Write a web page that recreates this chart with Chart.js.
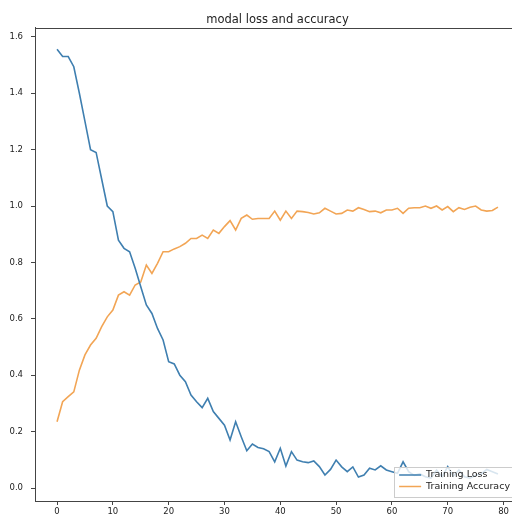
<!DOCTYPE html>
<html>
<head>
<meta charset="utf-8">
<script src="https://cdn.jsdelivr.net/npm/chart.js@4/dist/chart.umd.min.js"></script>
<style>
    html, body { margin: 0; padding: 0; background: #fff; overflow: hidden; }
    #wrap { width: 555px; height: 530px; }
</style>
</head>
<body>
<div id="wrap"><canvas id="historyChart" width="555" height="530"></canvas></div>
<script>
// epochs on the x axis
const epochs = [0, 1, 2, 3, 4, 5, 6, 7, 8, 9, 10, 11, 12, 13, 14, 15, 16, 17, 18, 19,
    20, 21, 22, 23, 24, 25, 26, 27, 28, 29, 30, 31, 32, 33, 34, 35, 36, 37, 38, 39,
    40, 41, 42, 43, 44, 45, 46, 47, 48, 49, 50, 51, 52, 53, 54, 55, 56, 57, 58, 59,
    60, 61, 62, 63, 64, 65, 66, 67, 68, 69, 70, 71, 72, 73, 74, 75, 76, 77, 78, 79];

const trainingLoss = [1.556, 1.53, 1.53, 1.494, 1.40, 1.30, 1.20, 1.19, 1.095, 1.00,
    0.98, 0.879, 0.85, 0.838, 0.779, 0.714, 0.649, 0.619, 0.566, 0.525,
    0.448, 0.44, 0.40, 0.377, 0.33, 0.306, 0.285, 0.318, 0.271, 0.247,
    0.223, 0.170, 0.235, 0.182, 0.132, 0.156, 0.144, 0.139, 0.129, 0.093,
    0.141, 0.078, 0.129, 0.099, 0.093, 0.090, 0.096, 0.076, 0.046, 0.066,
    0.099, 0.075, 0.058, 0.075, 0.039, 0.046, 0.070, 0.064, 0.079, 0.064,
    0.058, 0.052, 0.093, 0.058, 0.045, 0.050, 0.040, 0.035, 0.064, 0.040,
    0.076, 0.042, 0.064, 0.040, 0.035, 0.045, 0.050, 0.066, 0.058, 0.050];

const trainingAccuracy = [0.235, 0.306, 0.324, 0.341, 0.418, 0.472, 0.507, 0.531, 0.572, 0.607,
    0.631, 0.684, 0.696, 0.684, 0.72, 0.731, 0.791, 0.761, 0.797, 0.838,
    0.838, 0.848, 0.856, 0.868, 0.885, 0.885, 0.897, 0.885, 0.915, 0.903,
    0.927, 0.948, 0.915, 0.956, 0.968, 0.953, 0.956, 0.956, 0.956, 0.982,
    0.950, 0.982, 0.956, 0.982, 0.980, 0.977, 0.972, 0.976, 0.992, 0.982,
    0.972, 0.974, 0.986, 0.982, 0.994, 0.988, 0.980, 0.982, 0.976, 0.986,
    0.986, 0.992, 0.974, 0.992, 0.994, 0.994, 1.000, 0.992, 1.000, 0.986,
    0.998, 0.980, 0.994, 0.988, 0.996, 1.000, 0.986, 0.982, 0.984, 0.996];

const xTicks = [0, 10, 20, 30, 40, 50, 60, 70, 80];
const yTicks = [0.0, 0.2, 0.4, 0.6, 0.8, 1.0, 1.2, 1.4, 1.6];

const FONT = "'DejaVu Sans', sans-serif";
const AXIS_COLOR = '#444';

// matplotlib centres the title over the axes, not the whole figure
const titleOverAxesPlugin = {
    id: 'titleOverAxes',
    afterLayout(chart) {
        if (chart.titleBlock) {
            chart.titleBlock.left = chart.chartArea.left;
            chart.titleBlock.right = chart.chartArea.right;
        }
    }
};

// matplotlib style frame: all four spines
const framePlugin = {
    id: 'frame',
    afterDraw(chart) {
        const a = chart.chartArea;
        const ctx = chart.ctx;
        ctx.save();
        ctx.strokeStyle = AXIS_COLOR;
        ctx.lineWidth = 1;
        ctx.strokeRect(Math.round(a.left) + 0.5, Math.round(a.top) + 0.5,
            Math.round(a.right - a.left), Math.round(a.bottom - a.top));
        ctx.restore();
    }
};

// legend box in the lower right corner, inside the axes
const boxLegendPlugin = {
    id: 'boxLegend',
    afterDraw(chart) {
        const a = chart.chartArea;
        const ctx = chart.ctx;
        const sets = chart.data.datasets;
        ctx.save();
        ctx.font = '9.5px ' + FONT;
        let textW = 0;
        sets.forEach(ds => { textW = Math.max(textW, ctx.measureText(ds.label).width); });
        const rowH = 11.5;
        const w = 5 + 22 + 5 + textW + 5;
        const h = 6 + rowH * sets.length + 1;
        const right = a.right - 5;
        const bottom = a.bottom - 4;
        const left = right - w;
        const top = bottom - h;
        ctx.fillStyle = 'rgba(255,255,255,0.8)';
        ctx.fillRect(left, top, w, h);
        ctx.strokeStyle = '#ccc';
        ctx.lineWidth = 1;
        ctx.strokeRect(Math.round(left) + 0.5, Math.round(top) + 0.5, Math.round(w), Math.round(h));
        sets.forEach((ds, i) => {
            const y = top + 8 + i * rowH;
            ctx.strokeStyle = ds.borderColor;
            ctx.lineWidth = 1.5;
            ctx.beginPath();
            ctx.moveTo(left + 5, y);
            ctx.lineTo(left + 27, y);
            ctx.stroke();
            ctx.fillStyle = '#222';
            ctx.textBaseline = 'middle';
            ctx.textAlign = 'left';
            ctx.fillText(ds.label, left + 32, y);
        });
        ctx.restore();
    }
};

document.addEventListener('DOMContentLoaded', function() {
    const ctx = document.getElementById('historyChart');

    new Chart(ctx, {
        type: 'line',
        data: {
            labels: epochs,
            datasets: [
                {
                    label: 'Training Loss',
                    data: trainingLoss,
                    borderColor: '#3f7fb0',
                    borderWidth: 1.6,
                    pointRadius: 0,
                    tension: 0,
                    fill: false
                },
                {
                    label: 'Training Accuracy',
                    data: trainingAccuracy,
                    borderColor: '#f2a555',
                    borderWidth: 1.6,
                    pointRadius: 0,
                    tension: 0,
                    fill: false
                }
            ]
        },
        options: {
            responsive: false,
            animation: false,
            devicePixelRatio: 1,
            layout: { padding: { left: 0, right: 35, top: 0, bottom: 0 } },
            plugins: {
                legend: { display: false },
                tooltip: { enabled: false },
                title: {
                    display: true,
                    text: 'modal loss and accuracy',
                    color: '#222',
                    font: { size: 11.5, family: FONT, weight: 'normal', lineHeight: 1.2 },
                    padding: { top: 13, bottom: 1 }
                }
            },
            scales: {
                x: {
                    type: 'linear',
                    min: -3.95,
                    max: 82.95,
                    afterBuildTicks: function(scale) {
                        scale.ticks = xTicks.map(v => ({ value: v }));
                    },
                    afterFit: function(scale) { scale.height = 29; },
                    grid: {
                        drawOnChartArea: false,
                        tickLength: 4,
                        tickColor: AXIS_COLOR
                    },
                    border: { display: true, color: AXIS_COLOR },
                    ticks: {
                        padding: 2,
                        color: '#222',
                        font: { size: 8.5, family: FONT },
                        maxRotation: 0,
                        callback: v => String(v)
                    }
                },
                y: {
                    type: 'linear',
                    min: -0.046,
                    max: 1.632,
                    afterBuildTicks: function(scale) {
                        scale.ticks = yTicks.map(v => ({ value: v }));
                    },
                    afterFit: function(scale) { scale.width = 35; },
                    grid: {
                        drawOnChartArea: false,
                        tickLength: 4,
                        tickColor: AXIS_COLOR
                    },
                    border: { display: true, color: AXIS_COLOR },
                    ticks: {
                        padding: 8,
                        color: '#222',
                        font: { size: 8.5, family: FONT },
                        callback: v => Number(v).toFixed(1)
                    }
                }
            }
        },
        plugins: [titleOverAxesPlugin, framePlugin, boxLegendPlugin]
    });
});
</script>
</body>
</html>
